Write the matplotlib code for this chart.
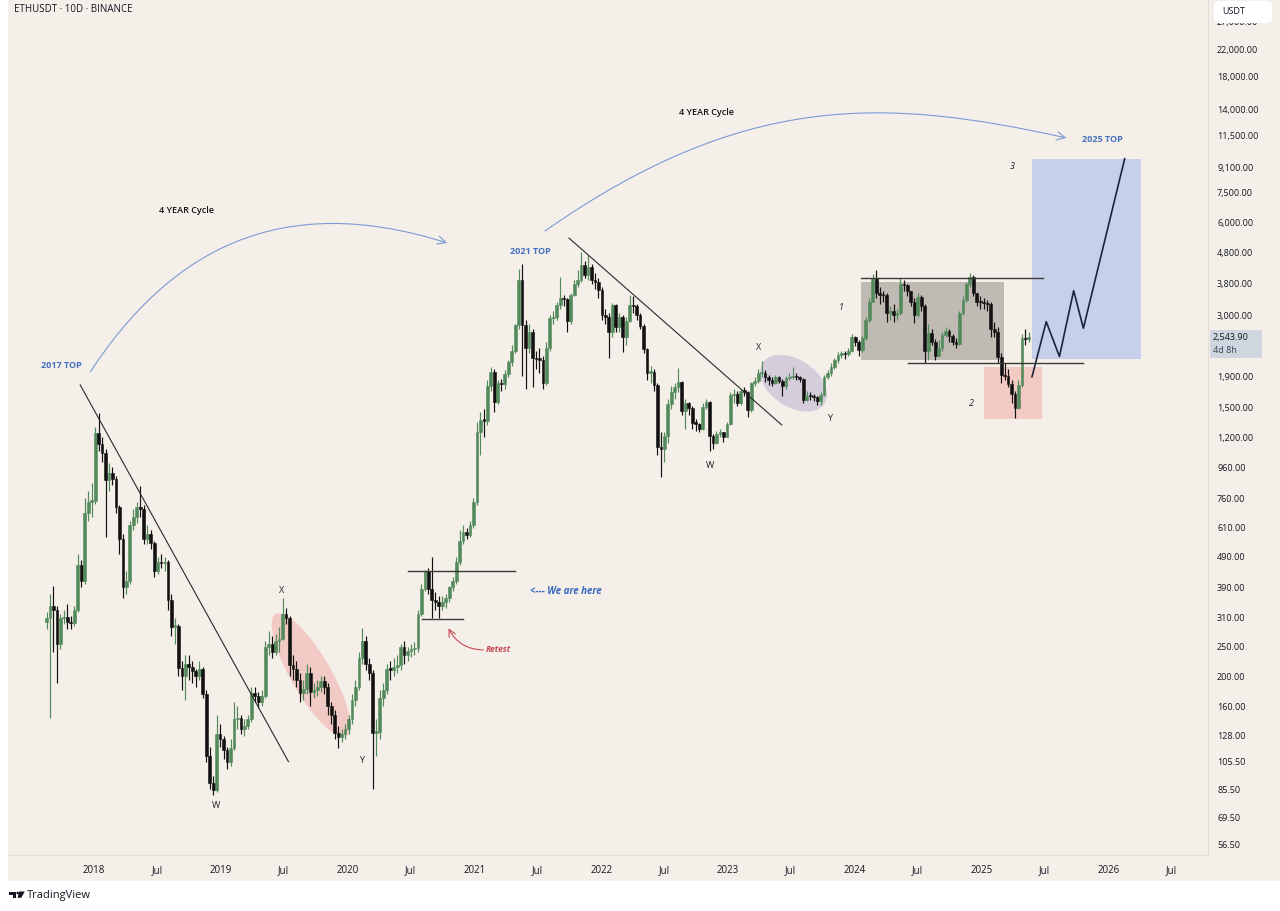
import numpy as np
import matplotlib
matplotlib.use("Agg")
import matplotlib.pyplot as plt
import matplotlib.dates as mdates
from matplotlib.patches import Rectangle, Polygon, Ellipse, FancyArrowPatch, FancyBboxPatch
from matplotlib.path import Path

plt.rcParams['font.family'] = ['Open Sans', 'DejaVu Sans']

# ---------------- candles: ETHUSDT 10D (Binance) ----------------
first_date = '2017-08-17'
first_open = 300

closes = [
    310, 340, 330, 255, 310, 312, 300, 298, 330, 460,
    410, 680, 740, 745, 1240, 1140, 1070, 870, 920, 880,
    710, 560, 390, 410, 620, 660, 710, 700, 560, 580,
    545, 440, 470, 468, 470, 355, 290, 292, 213, 200,
    220, 215, 208, 200, 212, 175, 110, 90, 85, 130,
    125, 115, 105, 117, 145, 146, 135, 138, 145, 177,
    172, 165, 172, 250, 255, 240, 260, 265,
    320, 310, 218, 212, 195, 177, 182, 205, 178, 180,
    185, 193, 185, 160, 150, 131, 127, 130, 135, 145,
    167, 185, 230, 260, 220, 205, 131, 132, 170, 180,
    212, 210, 215, 218, 250, 235, 242, 245, 248, 320,
    385, 440, 385, 355, 350, 340, 350, 360, 390, 410,
    470, 550,
    590, 575, 620, 740, 1250, 1370, 1360, 1760, 1960, 1560,
    1800, 1790, 1930, 2110, 2290, 2780, 3900, 2780, 2350, 2640,
    2170, 2160, 2150, 1800, 2350, 2930, 2950, 3230, 3400, 3380,
    2870, 3500, 3800, 3900, 4380, 4050, 4300, 3900, 3850, 3620,
    3000, 2950, 2650, 3230, 2740, 2950, 2550, 2880, 3230, 3200,
    3000, 2770, 2330, 1950, 1960, 1780, 1120, 1100, 1210, 1540,
    1690, 1750, 1820, 1460, 1550, 1500, 1340, 1330, 1280, 1510,
    1560, 1210, 1150, 1230, 1250, 1200, 1330, 1650, 1660, 1550,
    1700, 1690, 1470, 1800, 1830, 1940, 1950, 1890, 1840, 1800,
    1880, 1830, 1760, 1870, 1880, 1890, 1880, 1860, 1590, 1640,
    1630, 1620, 1580,
    1650, 1890, 1940, 2037, 2143, 2225, 2255, 2240, 2300, 2552,
    2460, 2310, 2520, 2893, 3318, 3970, 3530, 3500, 3475, 3040,
    3100, 3000, 3050, 3800, 3750, 3585, 3318, 3000, 3430, 3200,
    2300, 2630, 2460, 2200, 2350, 2590, 2660, 2560, 2460, 2420,
    3040, 3370, 3800, 4000, 3530, 3318, 3300, 3280, 3250, 2700,
    2650, 2190, 1910, 1900, 1795, 1660, 1500, 1780, 2520, 2500,
    2544,
]

highs = [
    325, 370, 395, 340, 320, 330, 345, 315, 340, 500,
    480, 760, 800, 850, 1300, 1440, 1200, 1100, 990, 960,
    900, 720, 580, 440, 640, 700, 740, 830, 720, 620,
    600, 550, 490, 500, 490, 480, 370, 310, 295, 225,
    235, 235, 225, 212, 225, 215, 180, 118, 95, 150,
    140, 128, 118, 125, 165, 160, 150, 145, 150, 185,
    185, 178, 180, 260, 280, 270, 275, 290,
    360, 335, 315, 235, 225, 205, 195, 220, 215, 190,
    195, 200, 200, 190, 165, 155, 138, 135, 140, 150,
    175, 195, 240, 288, 270, 230, 210, 145, 180, 190,
    220, 225, 230, 235, 255, 260, 250, 255, 258, 330,
    400, 445, 450, 490, 375, 365, 365, 370, 395, 420,
    490, 600,
    620, 610, 640, 760, 1350, 1450, 1480, 1850, 2040, 2000,
    1850, 1860, 1990, 2150, 2400, 2800, 4230, 4400, 2900, 2800,
    2700, 2300, 2350, 2200, 2450, 3000, 3100, 3300, 4000, 3500,
    3400, 3550, 3900, 4200, 4800, 4500, 4700, 4400, 4100, 3950,
    3700, 3150, 3050, 3280, 3250, 3050, 3000, 2950, 3500, 3450,
    3250, 3050, 2800, 2350, 2050, 2000, 1800, 1250, 1250, 1600,
    1760, 1800, 2020, 1830, 1600, 1560, 1520, 1380, 1340, 1550,
    1600, 1580, 1230, 1260, 1280, 1250, 1350, 1680, 1720, 1700,
    1720, 1750, 1700, 1820, 1880, 2000, 2130, 1990, 1920, 1880,
    1920, 1900, 1860, 1900, 1950, 2030, 1940, 1900, 1870, 1700,
    1680, 1660, 1640,
    1680, 1920, 1990, 2100, 2180, 2270, 2300, 2300, 2350, 2600,
    2560, 2480, 2560, 2950, 3400, 4090, 4220, 3700, 3600, 3550,
    3200, 3250, 3150, 3950, 3900, 3800, 3600, 3400, 3550, 3480,
    3250, 2800, 2700, 2500, 2480, 2650, 2750, 2700, 2600, 2520,
    3100, 3450, 3850, 4110, 4050, 3550, 3450, 3400, 3350, 3300,
    2850, 2750, 2250, 2100, 2000, 1850, 1700, 1850, 2600, 2700,
    2650,
]

lows = [
    285, 146, 240, 190, 245, 295, 285, 285, 292, 325,
    390, 400, 640, 660, 730, 1080, 1000, 570, 800, 840,
    680, 500, 360, 370, 400, 600, 630, 660, 540, 540,
    520, 420, 430, 450, 440, 330, 270, 255, 200, 180,
    168, 195, 190, 185, 195, 170, 105, 86, 82, 84,
    118, 108, 100, 102, 115, 135, 130, 128, 135, 142,
    165, 158, 160, 170, 235, 230, 235, 240,
    262, 295, 200, 195, 185, 165, 168, 175, 160, 170,
    172, 178, 175, 150, 140, 125, 117, 122, 125, 130,
    140, 160, 180, 220, 210, 195, 86, 110, 125, 160,
    175, 195, 200, 205, 210, 220, 225, 232, 235, 240,
    315, 380, 370, 310, 330, 310, 330, 335, 350, 380,
    400, 460,
    540, 560, 570, 610, 720, 1050, 1200, 1320, 1700, 1450,
    1540, 1700, 1720, 1880, 2050, 2250, 2700, 1900, 1720, 2250,
    1750, 2000, 1950, 1720, 1780, 2300, 2800, 2900, 3150, 3200,
    2650, 2800, 3450, 3700, 3850, 3950, 3900, 3800, 3650, 3400,
    2900, 2800, 2170, 2550, 2650, 2650, 2270, 2400, 2850, 3050,
    2900, 2700, 2250, 1850, 1800, 1700, 1050, 890, 1000, 1150,
    1480, 1600, 1680, 1420, 1280, 1420, 1280, 1260, 1250, 1270,
    1480, 1080, 1100, 1140, 1200, 1160, 1200, 1320, 1550, 1520,
    1530, 1640, 1400, 1450, 1760, 1800, 1880, 1820, 1780, 1760,
    1790, 1800, 1630, 1730, 1850, 1860, 1840, 1820, 1550, 1580,
    1590, 1580, 1530,
    1530, 1640, 1860, 1900, 2000, 2100, 2180, 2160, 2200, 2280,
    2380, 2200, 2280, 2480, 2850, 3300, 3400, 3250, 3300, 2850,
    2900, 2850, 2900, 3000, 3600, 3450, 3200, 2820, 2950, 3100,
    2100, 2150, 2400, 2150, 2200, 2300, 2550, 2450, 2400, 2350,
    2400, 3000, 3300, 3700, 3450, 3200, 3150, 3150, 3100, 2550,
    2550, 2100, 1800, 1850, 1750, 1550, 1390, 1480, 1750, 2400,
    2450,
]

price_ticks = [56.5, 69.5, 85.5, 105.5, 128, 160, 200, 250, 310, 390, 490, 610,
               760, 960, 1200, 1500, 1900, 3000, 3800, 4800, 6000, 7500, 9100,
               11500, 14000, 18000, 22000, 27000]
last_price = 2543.90
countdown = '4d 8h'

# ---------------- drawings on the chart (date, price) ----------------
trendlines = [[('2017-11-22', 1777), ('2019-07-15', 105.5)],
              [('2021-09-30', 5345), ('2023-06-05', 1317)]]
hlines = [(442, '2020-06-23', '2021-04-28'), (308, '2020-08-02', '2020-11-30'),
          (3953, '2024-01-18', '2025-06-26'), (2091, '2024-06-03', '2025-10-21')]
boxes = [('2024-01-19', '2025-03-07', 2144, 3853, '#77716a', 0.42),
         ('2025-01-09', '2025-06-24', 1374, 2037, '#f28b8b', 0.38),
         ('2025-05-27', '2026-04-06', 2154, 9690, '#aabcec', 0.6)]
ellipses = [('2019-09-18', 202, 141, 40, -60, '#f08080', 0.33),
            ('2023-07-09', 1800, 74, 47, -33.6, '#8f7fc0', 0.30)]
path_dates = ['2025-05-26', '2025-07-06', '2025-08-13', '2025-09-23', '2025-10-21', '2026-02-17']
path_prices = [1890, 2856, 2199, 3603, 2718, 9690]
cycle_arcs = [[('2017-12-21', 1958), ('2018-08-08', 4888), ('2019-06-21', 7663), ('2020-10-14', 5151)],
              [('2021-07-23', 5636), ('2023-02-19', 16100), ('2024-04-01', 15270), ('2025-09-02', 11320)]]
retest_arrow = [('2021-01-26', 243.8), ('2020-10-18', 286.8)]

BG = '#f4efe8'
GREEN = '#528a5b'
BLACK = '#111111'
BLUE_TXT = '#4670c0'
TXT = '#131722'


def dn(s):
    return mdates.date2num(np.datetime64(s))


W, H = 1280, 911
fig = plt.figure(figsize=(12.8, 9.11), dpi=100)
fig.patch.set_facecolor('white')
fig.patches.append(Rectangle((8 / W, 30 / H), 1272 / W, 881 / H,
                             transform=fig.transFigure, fc=BG, ec='none', zorder=-10))

ax = fig.add_axes([8 / W, 56 / H, 1200 / W, 855 / H])
ax.set_facecolor(BG)
ax.set_yscale('log')
ax.set_xlim(dn('2017-04-28'), dn('2026-10-15'))
ax.set_ylim(52.4, 31840)

# candles
n = len(closes)
dates = np.datetime64(first_date) + np.arange(n) * np.timedelta64(10, 'D')
x = mdates.date2num(dates)
c = np.array(closes, float)
o = np.r_[first_open, c[:-1]]
h = np.array(highs, float)
l = np.array(lows, float)
col = np.where(c >= o, GREEN, BLACK)
ax.vlines(x, l, h, colors=col, lw=0.85, zorder=3)
blo = np.minimum(o, c)
bhi = np.maximum(np.maximum(o, c), blo * 1.01)
ax.bar(x, bhi - blo, bottom=blo, width=8, color=col, edgecolor=col, lw=0.4, zorder=4)

# boxes
for d0, d1, p0, p1, fc, a in boxes:
    ax.add_patch(Rectangle((dn(d0), p0), dn(d1) - dn(d0), p1 - p0, fc=fc, ec='none', alpha=a, zorder=1))

# ellipses (sizes in pixels)
for d, p, w, hh, ang, fc, a in ellipses:
    cx, cy = ax.transData.transform((dn(d), p))
    t = np.linspace(0, 2 * np.pi, 150)
    r = np.deg2rad(ang)
    ex, ey = w / 2 * np.cos(t), hh / 2 * np.sin(t)
    pts = np.column_stack([cx + ex * np.cos(r) - ey * np.sin(r), cy + ex * np.sin(r) + ey * np.cos(r)])
    ax.add_patch(Polygon(ax.transData.inverted().transform(pts), closed=True, fc=fc, ec='none', alpha=a, zorder=1))

for (d0, p0), (d1, p1) in trendlines:
    ax.plot([dn(d0), dn(d1)], [p0, p1], color='#2a2a2a', lw=0.8, zorder=5)
for p, d0, d1 in hlines:
    ax.plot([dn(d0), dn(d1)], [p, p], color='#3a3a3a', lw=1.0, zorder=5)

ax.plot([dn(d) for d in path_dates], path_prices, color='#1c2340', lw=1.2, zorder=5)

for arc in cycle_arcs:
    verts = [(dn(d), p) for d, p in arc]
    pth = Path(verts, [Path.MOVETO, Path.CURVE4, Path.CURVE4, Path.CURVE4])
    ax.add_patch(FancyArrowPatch(path=pth, arrowstyle='->,head_length=0.6,head_width=0.3',
                                 mutation_scale=10, color='#7d9ad6', lw=0.8, zorder=5))

(ra_d, ra_p), (rb_d, rb_p) = retest_arrow
ax.add_patch(FancyArrowPatch((dn(ra_d), ra_p), (dn(rb_d), rb_p), connectionstyle='arc3,rad=-0.3',
                             arrowstyle='->,head_length=0.5,head_width=0.25', mutation_scale=10,
                             color='#c84a58', lw=0.8, shrinkA=0, shrinkB=0, zorder=5))


# text labels
def lab(d, p, s, **kw):
    kw.setdefault('fontsize', 6.5)
    kw.setdefault('color', '#222222')
    ax.text(dn(d), p, s, ha='center', va='center', zorder=6, **kw)


lab('2017-09-28', 2049, '2017 TOP', color=BLUE_TXT, fontweight='bold')
lab('2021-06-10', 4815, '2021 TOP', color=BLUE_TXT, fontweight='bold')
lab('2025-12-14', 11230, '2025 TOP', color=BLUE_TXT, fontweight='bold')
lab('2018-09-23', 6548, '4 YEAR Cycle', color='#111111', fontweight='semibold')
lab('2022-10-30', 13750, '4 YEAR Cycle', color='#111111', fontweight='semibold')
lab('2019-06-26', 382, 'X')
lab('2020-02-09', 106.8, 'Y')
lab('2018-12-18', 75.7, 'W')
lab('2022-11-11', 968, 'W')
lab('2023-03-29', 2345, 'X')
lab('2023-10-20', 1387, 'Y')
lab('2023-11-23', 3164, '1', fontstyle='italic')
lab('2024-12-02', 1541, '2', fontstyle='italic')
lab('2025-03-30', 9108, '3', fontstyle='italic')
lab('2021-09-22', 379, '<--- We are here', color='#3b69c2', fontstyle='italic', fontweight='bold', fontsize=7)
lab('2021-03-10', 243.8, 'Retest', color='#c84a58', fontstyle='italic', fontweight='bold', fontsize=6)

# axes styling
for s in ('top', 'left'):
    ax.spines[s].set_visible(False)
for s in ('right', 'bottom'):
    ax.spines[s].set_color('#e2ddd5')
    ax.spines[s].set_linewidth(0.8)

ax.yaxis.tick_right()
ax.yaxis.set_minor_locator(matplotlib.ticker.NullLocator())
ax.set_yticks(price_ticks)
ax.set_yticklabels([f'{v:,.2f}' for v in price_ticks])
ax.tick_params(axis='y', length=0, pad=6.5, labelsize=6.5, labelcolor=TXT)

xt, xl = [], []
for yr in range(2018, 2027):
    xt += [dn(f'{yr}-01-01'), dn(f'{yr}-07-01')]
    xl += [str(yr), 'Jul']
ax.set_xticks(xt)
ax.set_xticklabels(xl)
ax.tick_params(axis='x', length=0, pad=7, labelsize=7, labelcolor=TXT)

# last price tag on the price scale
tag_y = ax.transData.transform((x[-1], last_price))[1]
fig.patches.append(Rectangle((1210 / W, (tag_y - 21) / H), 52 / W, 28 / H,
                             transform=fig.transFigure, fc='#cfd6e0', ec='none', zorder=15))
fig.text(1213 / W, tag_y / H, f'{last_price:,.2f}', fontsize=6.5, color=TXT, va='center', zorder=16)
fig.text(1213 / W, (tag_y - 13) / H, countdown, fontsize=6.5, color='#3a4050', va='center', zorder=16)

# header, currency box, logo
fig.text(14 / W, 1 - 9 / H, 'ETHUSDT · 10D · BINANCE', fontsize=7, color=TXT, va='center')
fig.patches.append(FancyBboxPatch((1214 / W, 1 - 23 / H), 58 / W, 22 / H,
                                  boxstyle='round,pad=0,rounding_size=0.004', transform=fig.transFigure,
                                  fc='white', ec='none', zorder=20))
fig.text(1222 / W, 1 - 11 / H, 'USDT', fontsize=6.5, color=TXT, va='center', zorder=21)


def fp(px, py):
    return (px / W, 1 - py / H)


fig.patches.append(Polygon([fp(9, 891.5), fp(16, 891.5), fp(16, 897.8), fp(12.6, 897.8), fp(12.6, 894.5), fp(9, 894.5)],
                           closed=True, transform=fig.transFigure, fc=TXT, ec='none'))
fig.patches.append(Ellipse(fp(17.7, 893), 2.6 / W, 2.6 / H, transform=fig.transFigure, fc=TXT, ec='none'))
fig.patches.append(Polygon([fp(19.2, 891.5), fp(24.8, 891.5), fp(21.2, 897.8), fp(17.6, 897.8)],
                           closed=True, transform=fig.transFigure, fc=TXT, ec='none'))
fig.text(27 / W, 1 - 895.5 / H, 'TradingView', fontsize=8, color=TXT, va='center')

fig.savefig('out.png', dpi=100, facecolor=fig.get_facecolor())
